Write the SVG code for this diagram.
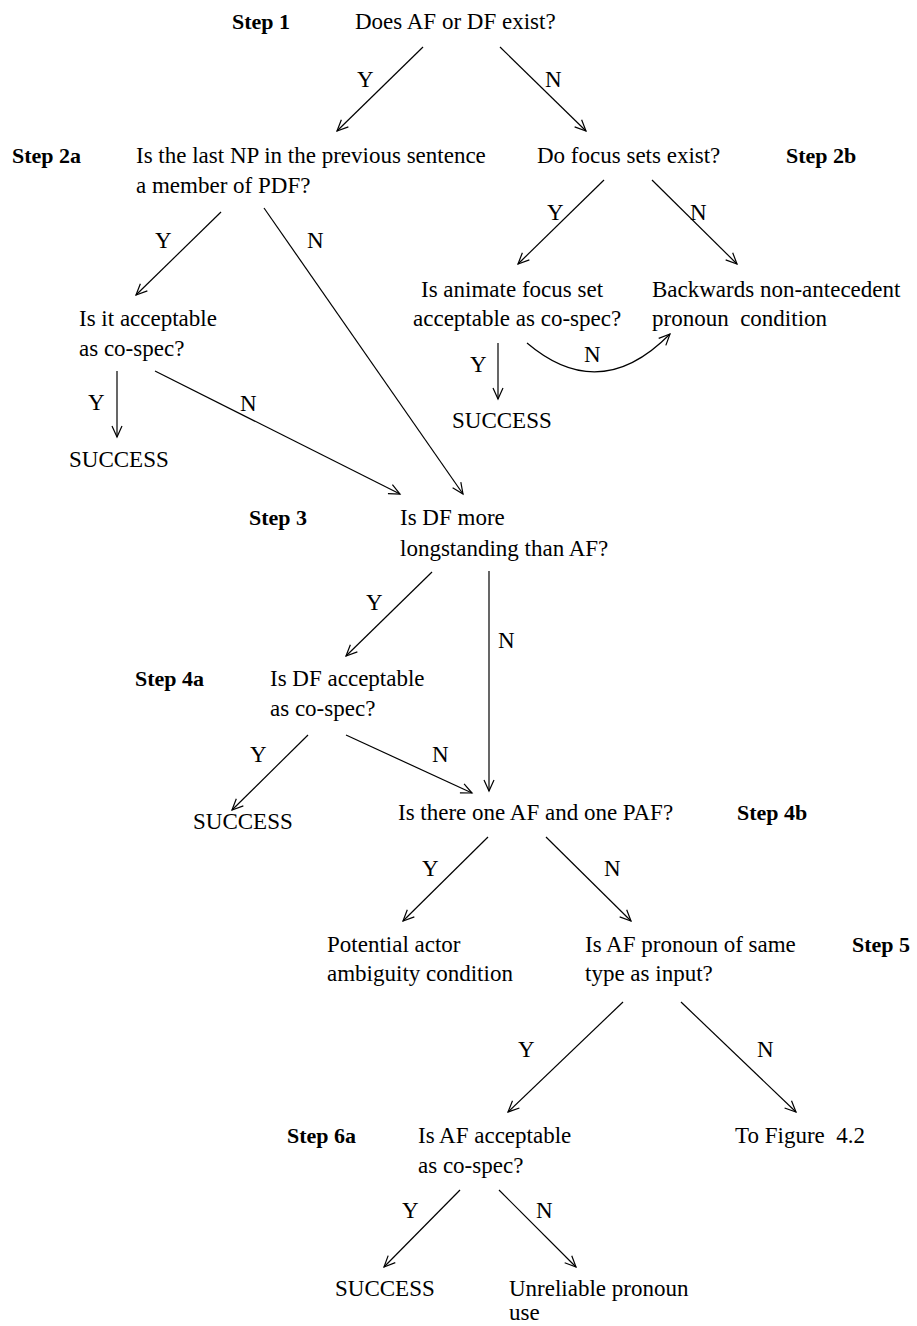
<svg xmlns="http://www.w3.org/2000/svg" width="917" height="1326" viewBox="0 0 917 1326">
<style>
text{font-family:"Liberation Serif","Times New Roman",serif;font-size:23px;fill:#000;white-space:pre}
.step{font-weight:bold;font-size:22px}
.c line,.c path{stroke:#000;stroke-width:1.2;fill:none}
</style>
<defs>
<marker id="ah" viewBox="-12 -6 14 12" refX="0" refY="0" markerWidth="14" markerHeight="12" markerUnits="userSpaceOnUse" orient="auto">
<polyline points="-11,-5 0,0 -11,5" fill="none" stroke="#000" stroke-width="1.2"/>
</marker>
</defs>
<rect width="917" height="1326" fill="#fff"/>
<g id="step1"><text class="step" x="232" y="29">Step 1</text><text x="355" y="29">Does AF or DF exist?</text></g>
<g id="step2a"><text class="step" x="12" y="163">Step 2a</text><text x="136" y="163">Is the last NP in the previous sentence</text><text x="136" y="193">a member of PDF?</text></g>
<g id="step2b"><text x="537" y="163">Do focus sets exist?</text><text class="step" x="786" y="163">Step 2b</text></g>
<g id="itacc"><text x="79" y="326">Is it acceptable</text><text x="79" y="356">as co-spec?</text></g>
<g id="animate"><text x="421" y="297">Is animate focus set</text><text x="413" y="326">acceptable as co-spec?</text></g>
<g id="backwards"><text x="652" y="297">Backwards non-antecedent</text><text x="652" y="326">pronoun  condition</text></g>
<g id="success1"><text x="69" y="467">SUCCESS</text></g>
<g id="success2"><text x="452" y="428">SUCCESS</text></g>
<g id="step3"><text class="step" x="249" y="525">Step 3</text><text x="400" y="525">Is DF more</text><text x="400" y="556">longstanding than AF?</text></g>
<g id="step4a"><text class="step" x="135" y="686">Step 4a</text><text x="270" y="686">Is DF acceptable</text><text x="270" y="716">as co-spec?</text></g>
<g id="success3"><text x="193" y="829">SUCCESS</text></g>
<g id="step4b"><text x="398" y="820">Is there one AF and one PAF?</text><text class="step" x="737" y="820">Step 4b</text></g>
<g id="potential"><text x="327" y="952">Potential actor</text><text x="327" y="981">ambiguity condition</text></g>
<g id="step5"><text x="585" y="952">Is AF pronoun of same</text><text x="585" y="981">type as input?</text><text class="step" x="852" y="952">Step 5</text></g>
<g id="step6a"><text class="step" x="287" y="1143">Step 6a</text><text x="418" y="1143">Is AF acceptable</text><text x="418" y="1173">as co-spec?</text></g>
<g id="tofig"><text x="735" y="1143">To Figure  4.2</text></g>
<g id="success4"><text x="335" y="1296">SUCCESS</text></g>
<g id="unreliable"><text x="509" y="1296">Unreliable pronoun</text><text x="509" y="1320">use</text></g>
<g id="connectors" class="c">
<line x1="423" y1="47" x2="337" y2="131" marker-end="url(#ah)"/>
<line x1="500" y1="47" x2="586" y2="131" marker-end="url(#ah)"/>
<line x1="221" y1="212" x2="136" y2="295" marker-end="url(#ah)"/>
<line x1="264" y1="208" x2="463" y2="494" marker-end="url(#ah)"/>
<line x1="604" y1="180" x2="518" y2="264" marker-end="url(#ah)"/>
<line x1="652" y1="180" x2="737" y2="264" marker-end="url(#ah)"/>
<line x1="117" y1="371" x2="117" y2="437" marker-end="url(#ah)"/>
<line x1="155" y1="371" x2="400" y2="494" marker-end="url(#ah)"/>
<line x1="498" y1="343" x2="498" y2="399" marker-end="url(#ah)"/>
<path d="M527,343 Q600,405 670,334" marker-end="url(#ah)"/>
<line x1="432" y1="572" x2="346" y2="656" marker-end="url(#ah)"/>
<line x1="489" y1="571" x2="489" y2="791" marker-end="url(#ah)"/>
<line x1="308" y1="735" x2="232" y2="810" marker-end="url(#ah)"/>
<line x1="346" y1="735" x2="472" y2="793" marker-end="url(#ah)"/>
<line x1="488" y1="837" x2="403" y2="921" marker-end="url(#ah)"/>
<line x1="546" y1="837" x2="631" y2="921" marker-end="url(#ah)"/>
<line x1="623" y1="1002" x2="508" y2="1112" marker-end="url(#ah)"/>
<line x1="681" y1="1002" x2="796" y2="1112" marker-end="url(#ah)"/>
<line x1="460" y1="1190" x2="384" y2="1267" marker-end="url(#ah)"/>
<line x1="499" y1="1190" x2="576" y2="1267" marker-end="url(#ah)"/>
</g>
<g id="labels">
<text x="357" y="87">Y</text><text x="545" y="87">N</text>
<text x="155" y="248">Y</text><text x="307" y="248">N</text>
<text x="547" y="220">Y</text><text x="690" y="220">N</text>
<text x="88" y="410">Y</text><text x="240" y="411">N</text>
<text x="470" y="372">Y</text><text x="584" y="362">N</text>
<text x="366" y="610">Y</text><text x="498" y="648">N</text>
<text x="250" y="762">Y</text><text x="432" y="762">N</text>
<text x="422" y="876">Y</text><text x="604" y="876">N</text>
<text x="518" y="1057">Y</text><text x="757" y="1057">N</text>
<text x="402" y="1218">Y</text><text x="536" y="1218">N</text>
</g>
</svg>
